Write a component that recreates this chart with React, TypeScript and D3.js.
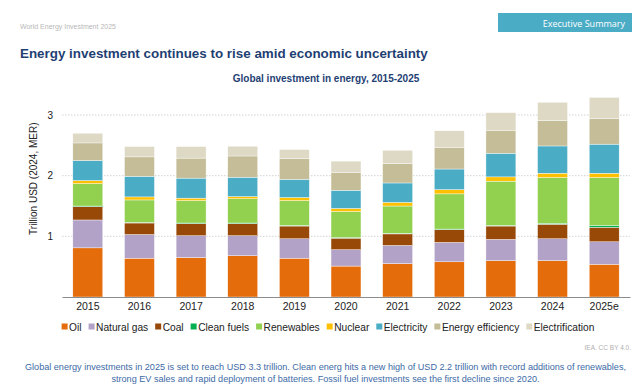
import React, { useEffect, useRef } from "react";
import * as d3 from "d3";

// years on the x axis
const years = ["2015", "2016", "2017", "2018", "2019", "2020", "2021", "2022", "2023", "2024", "2025e"];

// investment by category, trillion USD (2024, MER)
const oil = [0.81, 0.64, 0.65, 0.68, 0.64, 0.51, 0.55, 0.58, 0.6, 0.6, 0.54];
const naturalGas = [0.46, 0.39, 0.36, 0.33, 0.32, 0.27, 0.3, 0.32, 0.35, 0.36, 0.37];
const coal = [0.22, 0.19, 0.2, 0.2, 0.21, 0.19, 0.19, 0.21, 0.22, 0.24, 0.24];
const cleanFuels = [0.01, 0.01, 0.01, 0.01, 0.01, 0.01, 0.01, 0.01, 0.01, 0.015, 0.03];
const renewables = [0.37, 0.37, 0.37, 0.4, 0.41, 0.43, 0.45, 0.58, 0.73, 0.755, 0.79];
const nuclear = [0.05, 0.05, 0.04, 0.035, 0.05, 0.05, 0.06, 0.07, 0.07, 0.07, 0.07];
const electricity = [0.33, 0.34, 0.33, 0.32, 0.3, 0.3, 0.32, 0.34, 0.39, 0.45, 0.48];
const efficiency = [0.29, 0.32, 0.33, 0.35, 0.34, 0.29, 0.32, 0.35, 0.38, 0.42, 0.42];
const electrification = [0.16, 0.17, 0.19, 0.16, 0.15, 0.19, 0.22, 0.28, 0.29, 0.3, 0.35];

const seriesNames = ["Oil", "Natural gas", "Coal", "Clean fuels", "Renewables", "Nuclear", "Electricity", "Energy efficiency", "Electrification"];
const seriesValues = [oil, naturalGas, coal, cleanFuels, renewables, nuclear, electricity, efficiency, electrification];
const seriesColors = ["#e46c0a", "#b3a2c7", "#984807", "#00b050", "#92d050", "#ffc000", "#4bacc6", "#c4bd97", "#ddd9c4"];

const yTicks = [1, 2, 3];

const FONT = "'Liberation Sans', Arial, sans-serif";

export default function App() {
  const svgRef = useRef<SVGSVGElement>(null);

  useEffect(() => {
    const width = 640,
      height = 386;
    const margin = { top: 84.7, right: 10, bottom: 89, left: 62 };

    const svg = d3.select(svgRef.current).attr("width", width).attr("height", height);
    svg.selectAll("*").remove();

    // header
    svg.append("text").attr("x", 20).attr("y", 28.5).attr("font-family", FONT).attr("font-size", 7).attr("fill", "#b8b8b8").text("World Energy Investment 2025");
    svg.append("rect").attr("x", 498).attr("y", 13).attr("width", 134).attr("height", 19).attr("fill", "#4bacc6");
    svg.append("text").attr("x", 625).attr("y", 26.5).attr("text-anchor", "end").attr("font-family", "'Open Sans', sans-serif").attr("font-size", 9).attr("fill", "#ffffff").text("Executive Summary");

    svg.append("text").attr("x", 20).attr("y", 58).attr("font-family", FONT).attr("font-size", 13.4).attr("font-weight", "bold").attr("fill", "#1f3f73").text("Energy investment continues to rise amid economic uncertainty");
    svg.append("text").attr("x", 326).attr("y", 82).attr("text-anchor", "middle").attr("font-family", FONT).attr("font-size", 10).attr("font-weight", "bold").attr("fill", "#1f3f73").text("Global investment in energy, 2015-2025");

    // scales
    const x = d3.scaleBand().domain(years).range([margin.left, width - margin.right]).paddingInner(0.42).paddingOuter(0.21);
    const y = d3.scaleLinear().domain([0, 3.5]).range([height - margin.bottom, margin.top]);

    // gridlines
    svg
      .append("g")
      .selectAll("line")
      .data(yTicks)
      .join("line")
      .attr("x1", margin.left)
      .attr("x2", width - margin.right)
      .attr("y1", (d) => y(d))
      .attr("y2", (d) => y(d))
      .attr("stroke", "#c8c8c8")
      .attr("stroke-width", 0.8)
      .attr("stroke-dasharray", "1.5,1.5");

    // stacked data
    const rows = years.map((yr, i) => {
      const row: any = { year: yr };
      seriesNames.forEach((n, k) => (row[n] = seriesValues[k][i]));
      return row;
    });
    const stacked = d3.stack().keys(seriesNames)(rows);

    svg
      .append("g")
      .selectAll("g")
      .data(stacked)
      .join("g")
      .attr("fill", (_d, i) => seriesColors[i])
      .selectAll("rect")
      .data((d) => d)
      .join("rect")
      .attr("x", (d: any) => x(d.data.year)!)
      .attr("width", x.bandwidth())
      .attr("y", (d) => y(d[1]))
      .attr("height", (d) => y(d[0]) - y(d[1]))
      .attr("stroke", "#ffffff")
      .attr("stroke-width", 0.4);

    // x axis
    const xAxis = svg
      .append("g")
      .attr("transform", `translate(0,${height - margin.bottom})`)
      .call(d3.axisBottom(x).tickSize(0).tickPadding(6));
    xAxis.select(".domain").attr("stroke", "#8c8c8c").attr("stroke-width", 1);
    xAxis.selectAll("text").attr("font-family", FONT).attr("font-size", 10.5).attr("fill", "#222");

    // y axis labels
    const yAxis = svg
      .append("g")
      .attr("transform", `translate(${margin.left},0)`)
      .call(d3.axisLeft(y).tickValues(yTicks).tickSize(0).tickPadding(9).tickFormat(d3.format("d")));
    yAxis.select(".domain").remove();
    yAxis.selectAll("text").attr("font-family", FONT).attr("font-size", 10).attr("fill", "#222");

    svg
      .append("text")
      .attr("transform", `translate(36.5,${y(1.95)}) rotate(-90)`)
      .attr("text-anchor", "middle")
      .attr("font-family", FONT)
      .attr("font-size", 10)
      .attr("fill", "#222")
      .text("Trillion USD (2024, MER)");

    // legend, centred under the plot
    const legend = svg.append("g").attr("transform", "translate(0,327)");
    const items = legend
      .selectAll("g")
      .data(seriesNames)
      .join("g");
    items.append("rect").attr("y", -3.5).attr("width", 6).attr("height", 6).attr("fill", (_d, i) => seriesColors[i]);
    items
      .append("text")
      .attr("x", 7.5)
      .attr("y", 3.7)
      .attr("font-family", FONT)
      .attr("font-size", 10.2)
      .attr("fill", "#222")
      .text((d) => d);
    let offset = 0;
    const widths: number[] = [];
    items.each(function () {
      const t = d3.select(this).select("text").node() as SVGTextElement;
      widths.push(7.5 + t.getComputedTextLength());
    });
    const gap = 7;
    const total = d3.sum(widths) + gap * (widths.length - 1);
    const start = 328 - total / 2;
    items.attr("transform", (_d, i) => {
      const pos = start + offset;
      offset += widths[i] + gap;
      return `translate(${pos},0)`;
    });

    // source
    svg.append("text").attr("x", 631).attr("y", 350).attr("text-anchor", "end").attr("font-family", FONT).attr("font-size", 6.5).attr("fill", "#b0b0b0").text("IEA. CC BY 4.0.");

    // footer note
    const note = svg.append("text").attr("text-anchor", "middle").attr("font-family", FONT).attr("font-size", 9.1).attr("fill", "#3d6aa6");
    note.append("tspan").attr("x", 325.5).attr("y", 370).text("Global energy investments in 2025 is set to reach USD 3.3 trillion. Clean energ hits a new high of USD 2.2 trillion with record additions of renewables,");
    note.append("tspan").attr("x", 325.5).attr("y", 382).text("strong EV sales and rapid deployment of batteries. Fossil fuel investments see the first decline since 2020.");
  }, []);

  return (
    <div style={{ position: "absolute", left: 0, top: 0 }}>
      <svg ref={svgRef} style={{ display: "block" }} />
    </div>
  );
}
